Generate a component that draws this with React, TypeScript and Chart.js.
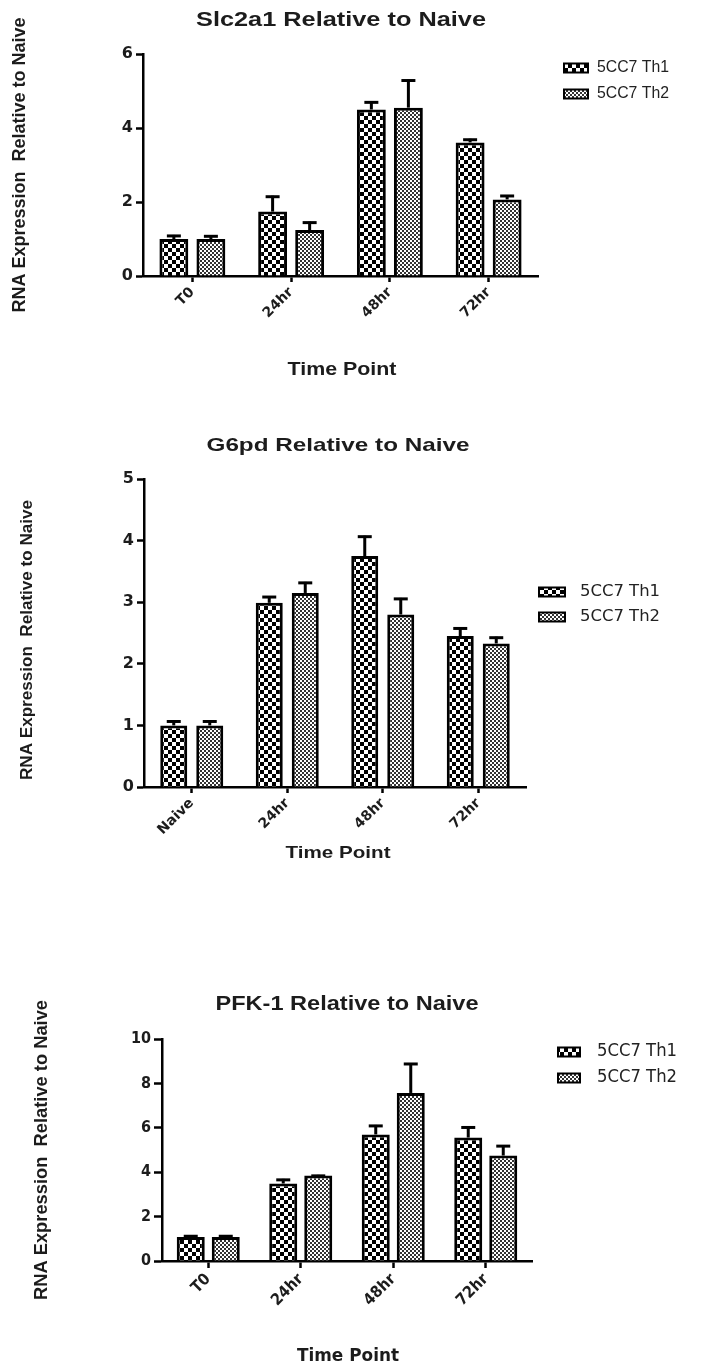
import React, { useEffect, useRef } from "react";
import { Chart, registerables } from "chart.js";

Chart.register(...registerables);

const timePointsA = ["T0", "24hr", "48hr", "72hr"];
const timePointsB = ["Naive", "24hr", "48hr", "72hr"];
const seriesLabels = ["5CC7 Th1", "5CC7 Th2"];

const slcTh1 = [1.0, 1.74, 4.5, 3.61];
const slcTh1Err = [0.11, 0.43, 0.22, 0.1];
const slcTh2 = [1.0, 1.24, 4.55, 2.07];
const slcTh2Err = [0.1, 0.23, 0.76, 0.12];
const slcTicks = [0, 2, 4, 6];

const g6pdTh1 = [1.0, 2.99, 3.75, 2.45];
const g6pdTh1Err = [0.08, 0.11, 0.33, 0.14];
const g6pdTh2 = [1.0, 3.15, 2.8, 2.33];
const g6pdTh2Err = [0.08, 0.18, 0.27, 0.11];
const g6pdTicks = [0, 1, 2, 3, 4, 5];

const pfkTh1 = [1.08, 3.49, 5.7, 5.56];
const pfkTh1Err = [0.08, 0.21, 0.43, 0.5];
const pfkTh2 = [1.08, 3.85, 7.57, 4.75];
const pfkTh2Err = [0.08, 0.03, 1.35, 0.47];
const pfkTicks = [0, 2, 4, 6, 8, 10];

const yTitleText = "RNA Expression  Relative to Naive";
const xTitleText = "Time Point";

const ARIAL = "Arial, 'Liberation Sans', sans-serif";
const WIDE = "'DejaVu Sans', Verdana, Arial, sans-serif";
const NARROW = "'Liberation Sans Narrow', 'DejaVu Sans Condensed', 'Arial Narrow', Arial, sans-serif";

type FontSpec = { family: string; size: number; weight: string };

type TextSpec = {
  text: string;
  x: number;
  y: number;
  size: number;
  width: number;
  weight: string;
  family: string;
  rotate?: boolean;
};

type Panel = {
  top: number;
  height: number;
  area: { left: number; right: number; top: number; bottom: number };
  categories: string[];
  th1: number[];
  th1Err: number[];
  th2: number[];
  th2Err: number[];
  ticks: number[];
  yMax: number;
  catPct: number;
  barPct: number;
  xTickFont: FontSpec;
  yTickFont: FontSpec;
  yTickLen: number;
  xTickLen: number;
  capHalf: number;
  title: TextSpec;
  xTitle: TextSpec;
  yTitle: TextSpec;
  legend: { boxX: number; boxW: number; boxH: number; textX: number; y1: number; y2: number; size: number; width: number; family: string };
};

const panels: Panel[] = [
  {
    top: 0,
    height: 420,
    area: { left: 143, right: 538, top: 54, bottom: 276 },
    categories: timePointsA,
    th1: slcTh1,
    th1Err: slcTh1Err,
    th2: slcTh2,
    th2Err: slcTh2Err,
    ticks: slcTicks,
    yMax: 6,
    catPct: 0.75,
    barPct: 0.78,
    xTickFont: { family: WIDE, size: 14, weight: "bold" },
    yTickFont: { family: WIDE, size: 16, weight: "bold" },
    yTickLen: 7,
    xTickLen: 6,
    capHalf: 7,
    title: { text: "Slc2a1 Relative to Naive", x: 341, y: 20, size: 21, width: 290, weight: "bold", family: ARIAL },
    xTitle: { text: xTitleText, x: 342, y: 370, size: 18, width: 109, weight: "bold", family: ARIAL },
    yTitle: { text: yTitleText, x: 20, y: 165, size: 19, width: 295, weight: "bold", family: ARIAL, rotate: true },
    legend: { boxX: 563, boxW: 26, boxH: 11, textX: 597, y1: 68, y2: 94, size: 16, width: 72, family: ARIAL },
  },
  {
    top: 430,
    height: 440,
    area: { left: 144, right: 526, top: 49, bottom: 357 },
    categories: timePointsB,
    th1: g6pdTh1,
    th1Err: g6pdTh1Err,
    th2: g6pdTh2,
    th2Err: g6pdTh2Err,
    ticks: g6pdTicks,
    yMax: 5,
    catPct: 0.754,
    barPct: 0.75,
    xTickFont: { family: WIDE, size: 14, weight: "bold" },
    yTickFont: { family: WIDE, size: 16, weight: "bold" },
    yTickLen: 7,
    xTickLen: 6,
    capHalf: 7,
    title: { text: "G6pd Relative to Naive", x: 338, y: 16, size: 19, width: 263, weight: "bold", family: ARIAL },
    xTitle: { text: xTitleText, x: 338, y: 423, size: 17, width: 105, weight: "bold", family: ARIAL },
    yTitle: { text: yTitleText, x: 27, y: 210, size: 17, width: 280, weight: "bold", family: ARIAL, rotate: true },
    legend: { boxX: 538, boxW: 28, boxH: 11, textX: 580, y1: 162, y2: 187, size: 16, width: 80, family: NARROW },
  },
  {
    top: 980,
    height: 385,
    area: { left: 162, right: 532, top: 59, bottom: 281 },
    categories: timePointsA,
    th1: pfkTh1,
    th1Err: pfkTh1Err,
    th2: pfkTh2,
    th2Err: pfkTh2Err,
    ticks: pfkTicks,
    yMax: 10,
    catPct: 0.757,
    barPct: 0.8,
    xTickFont: { family: NARROW, size: 16, weight: "bold" },
    yTickFont: { family: NARROW, size: 16, weight: "bold" },
    yTickLen: 8,
    xTickLen: 7,
    capHalf: 7,
    title: { text: "PFK-1 Relative to Naive", x: 347, y: 24, size: 21, width: 263, weight: "bold", family: ARIAL },
    xTitle: { text: xTitleText, x: 348, y: 376, size: 18, width: 102, weight: "bold", family: NARROW },
    yTitle: { text: yTitleText, x: 42, y: 170, size: 19, width: 300, weight: "bold", family: ARIAL, rotate: true },
    legend: { boxX: 557, boxW: 24, boxH: 11, textX: 597, y1: 72, y2: 98, size: 17, width: 80, family: NARROW },
  },
];

function makePattern(ctx: CanvasRenderingContext2D, size: number, dark: string, light: string) {
  const c = document.createElement("canvas");
  c.width = size * 2;
  c.height = size * 2;
  const g = c.getContext("2d")!;
  g.fillStyle = light;
  g.fillRect(0, 0, size * 2, size * 2);
  g.fillStyle = dark;
  g.fillRect(0, 0, size, size);
  g.fillRect(size, size, size, size);
  return ctx.createPattern(c, "repeat")!;
}

function drawFitted(ctx: CanvasRenderingContext2D, s: TextSpec) {
  ctx.save();
  ctx.font = `${s.weight} ${s.size}px ${s.family}`;
  ctx.fillStyle = "#1c1c1c";
  ctx.textAlign = "center";
  ctx.textBaseline = "middle";
  const w = ctx.measureText(s.text).width;
  const sx = s.width / w;
  ctx.translate(s.x, s.y);
  if (s.rotate) ctx.rotate(-Math.PI / 2);
  ctx.scale(sx, 1);
  ctx.fillText(s.text, 0, 0);
  ctx.restore();
}

function PanelChart({ p }: { p: Panel }) {
  const ref = useRef<HTMLCanvasElement | null>(null);

  useEffect(() => {
    const canvas = ref.current!;
    const ctx = canvas.getContext("2d")!;
    const pat1 = makePattern(ctx, 4, "#000000", "#ffffff");
    const pat2 = makePattern(ctx, 2, "#333333", "#ffffff");
    const patterns = [pat1, pat2];

    const errorBars = {
      id: "errorBars",
      afterDatasetsDraw(chart: any) {
        const c = chart.ctx;
        const yScale = chart.scales.y;
        chart.data.datasets.forEach((ds: any, di: number) => {
          const meta = chart.getDatasetMeta(di);
          meta.data.forEach((el: any, i: number) => {
            const v = ds.data[i];
            const e = ds.errors[i];
            const yTop = yScale.getPixelForValue(v);
            const yErr = yScale.getPixelForValue(v + e);
            c.save();
            c.strokeStyle = "#000";
            c.lineWidth = 3;
            c.lineCap = "butt";
            c.beginPath();
            c.moveTo(el.x, yTop);
            c.lineTo(el.x, yErr);
            c.stroke();
            c.beginPath();
            c.moveTo(el.x - p.capHalf, yErr + 1);
            c.lineTo(el.x + p.capHalf, yErr + 1);
            c.stroke();
            c.restore();
          });
        });
      },
    };

    const texts = {
      id: "panelTexts",
      afterDraw(chart: any) {
        const c = chart.ctx as CanvasRenderingContext2D;
        drawFitted(c, p.title);
        drawFitted(c, p.xTitle);
        drawFitted(c, p.yTitle);
        const L = p.legend;
        [L.y1, L.y2].forEach((y, i) => {
          c.save();
          c.fillStyle = "#000";
          c.fillRect(L.boxX, y - L.boxH / 2, L.boxW, L.boxH);
          c.fillStyle = patterns[i];
          c.fillRect(L.boxX + 2, y - L.boxH / 2 + 2, L.boxW - 4, L.boxH - 4);
          c.font = `normal ${L.size}px ${L.family}`;
          c.fillStyle = "#222";
          c.textAlign = "left";
          c.textBaseline = "middle";
          const label = seriesLabels[i];
          const w = c.measureText(label).width;
          c.translate(L.textX, y);
          c.scale(L.width / w, 1);
          c.fillText(label, 0, 0);
          c.restore();
        });
      },
    };

    const chart = new Chart(canvas, {
      type: "bar",
      data: {
        labels: p.categories,
        datasets: [
          {
            label: seriesLabels[0],
            data: p.th1,
            errors: p.th1Err,
            backgroundColor: pat1,
            borderColor: "#000",
            borderWidth: 3,
            categoryPercentage: p.catPct,
            barPercentage: p.barPct,
          } as any,
          {
            label: seriesLabels[1],
            data: p.th2,
            errors: p.th2Err,
            backgroundColor: pat2,
            borderColor: "#000",
            borderWidth: 3,
            categoryPercentage: p.catPct,
            barPercentage: p.barPct,
          } as any,
        ],
      },
      options: {
        responsive: false,
        animation: false,
        devicePixelRatio: 1,
        events: [],
        layout: { padding: { left: 0, top: p.area.top, right: 708 - p.area.right, bottom: 0 } },
        plugins: {
          legend: { display: false },
          title: { display: false },
          tooltip: { enabled: false },
        },
        scales: {
          x: {
            type: "category",
            offset: true,
            grid: {
              display: true,
              drawOnChartArea: false,
              offset: false,
              tickLength: p.xTickLen,
              tickWidth: 2.5,
              tickColor: "#000",
            },
            border: { display: true, color: "#000", width: 2.5 },
            ticks: {
              font: p.xTickFont as any,
              color: "#1c1c1c",
              minRotation: 45,
              maxRotation: 45,
              autoSkip: false,
              padding: 2,
            },
            afterFit: (s: any) => {
              s.height = p.height - p.area.bottom;
            },
          },
          y: {
            type: "linear",
            min: 0,
            max: p.yMax,
            grid: {
              display: true,
              drawOnChartArea: false,
              tickLength: p.yTickLen,
              tickWidth: 2.5,
              tickColor: "#000",
            },
            border: { display: true, color: "#000", width: 2.5 },
            ticks: {
              font: p.yTickFont as any,
              color: "#1c1c1c",
              padding: 3,
            },
            afterBuildTicks: (s: any) => {
              s.ticks = p.ticks.map((v) => ({ value: v }));
            },
            afterFit: (s: any) => {
              s.width = p.area.left;
            },
          },
        },
      },
      plugins: [errorBars, texts],
    });

    return () => {
      chart.destroy();
    };
  }, [p]);

  return (
    <canvas
      ref={ref}
      width={708}
      height={p.height}
      style={{ position: "absolute", left: 0, top: p.top, width: 708, height: p.height, display: "block" }}
    />
  );
}

export default function App() {
  return (
    <div style={{ position: "absolute", left: 0, top: 0, width: 708, height: 1365, background: "#fff", overflow: "hidden" }}>
      {panels.map((p, i) => (
        <PanelChart key={i} p={p} />
      ))}
    </div>
  );
}
